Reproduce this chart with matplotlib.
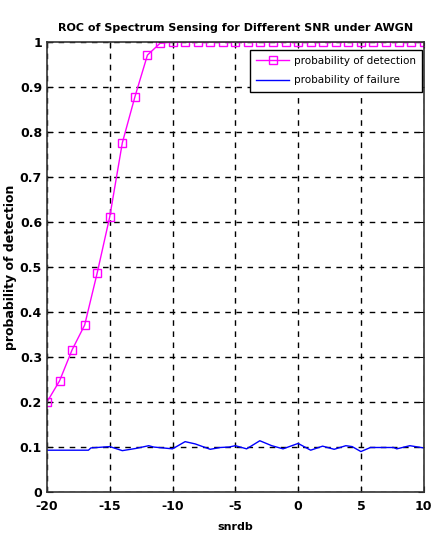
import numpy as np
import matplotlib.pyplot as plt

# data
snr_det = list(range(-20, 11))
p_det = [0.200, 0.247, 0.316, 0.371, 0.487, 0.612, 0.776, 0.878, 0.971, 0.997,
         1.0, 1.0, 1.0, 1.0, 1.0, 1.0, 1.0, 1.0, 1.0, 1.0,
         1.0, 1.0, 1.0, 1.0, 1.0, 1.0, 1.0, 1.0, 1.0, 1.0, 1.0]

snr_fail = [-20, -16.7, -16.5, -15, -14, -12.9, -11.9, -11.5, -10, -9, -8.2, -7,
            -6.2, -5.5, -5, -4.1, -3.05, -2.1, -1.2, 0, 1, 1.95, 2.87, 3.8,
            4.3, 5, 5.76, 7.6, 7.86, 8.9, 10]
p_fail = [0.093, 0.093, 0.098, 0.101, 0.092, 0.097, 0.103, 0.100, 0.096, 0.112,
          0.107, 0.095, 0.099, 0.100, 0.103, 0.096, 0.114, 0.103, 0.096, 0.108,
          0.093, 0.102, 0.095, 0.103, 0.101, 0.090, 0.099, 0.099, 0.096, 0.103,
          0.098]

yticks = np.round(np.arange(0, 1.01, 0.1), 1)
ytick_labels = ['0', '0.1', '0.2', '0.3', '0.4', '0.5', '0.6', '0.7', '0.8', '0.9', '1']
xticks = [-20, -15, -10, -5, 0, 5, 10]

plt.rcParams['font.family'] = ['Liberation Sans Narrow', 'DejaVu Sans']
plt.rcParams['font.weight'] = 'bold'

fig = plt.figure(figsize=(4.33, 5.36), dpi=100)
ax = fig.add_axes([0.1085, 0.082, 0.870, 0.8396])

ax.plot(snr_det, p_det, color='magenta', marker='s', markersize=6,
        markerfacecolor='none', markeredgewidth=1.0, linewidth=1.0,
        label='probability of detection')
ax.plot(snr_fail, p_fail, color='blue', linewidth=1.0,
        label='probability of failure')

ax.set_xlim(-20, 10)
ax.set_ylim(0, 1)
ax.set_xticks(xticks)
ax.set_xticklabels([str(t) for t in xticks])
ax.set_yticks(yticks)
ax.set_yticklabels(ytick_labels)
ax.tick_params(direction='in', labelsize=9, length=4, top=True, right=True)
ax.tick_params(axis='x', pad=6)
ax.grid(True, color='black', linestyle=(0, (4, 4)), linewidth=1.0)
for s in ax.spines.values():
    s.set_linewidth(1.2)
    s.set_color('#333333')

ax.set_title('ROC of Spectrum Sensing for Different SNR under AWGN',
             fontsize=8, fontweight='bold', pad=8)
ax.set_xlabel('snrdb', fontsize=8, fontweight='bold', labelpad=6)
ax.set_ylabel('probability of detection', fontsize=9, fontweight='bold', labelpad=2)

leg = ax.legend(loc='upper right', bbox_to_anchor=(0.995, 0.983), fontsize=7.5,
                frameon=True, fancybox=False, borderaxespad=0.0, borderpad=0.6,
                labelspacing=0.9, handlelength=3.2, handletextpad=0.4)
leg.get_frame().set_edgecolor('black')
leg.get_frame().set_linewidth(1.0)
leg.get_frame().set_alpha(1.0)
for t in leg.get_texts():
    t.set_fontweight('normal')

fig.savefig('out.png', dpi=100)
